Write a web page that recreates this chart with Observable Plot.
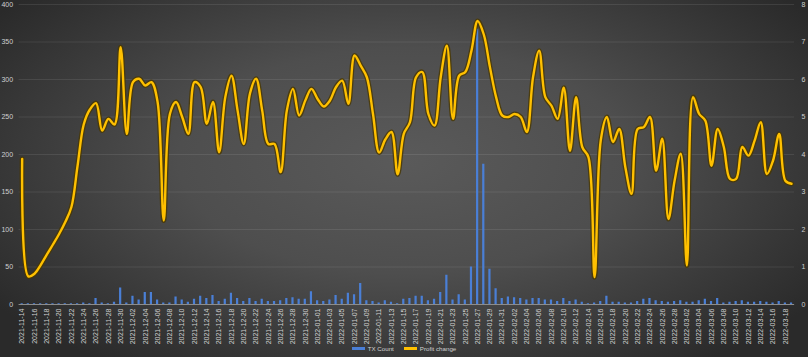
<!DOCTYPE html>
<html><head><meta charset="utf-8">
<script src="https://cdn.jsdelivr.net/npm/d3@7"></script>
<script src="https://cdn.jsdelivr.net/npm/@observablehq/plot@0.6"></script>
<style>
html,body{margin:0;padding:0;background:#2b2b2b;}
#wrap{position:relative;width:808px;height:357px;overflow:hidden;
  background: radial-gradient(ellipse 62% 70% at 50% 45%, #5a5a5a 0%, #4e4e4e 45%, #2a2a2a 100%);
  font-family:"Liberation Sans",Arial,sans-serif;}
#chart{position:absolute;left:0;top:0;}
#legend{position:absolute;left:0;top:340px;width:808px;height:17px;display:flex;justify-content:center;align-items:center;gap:10px;font-size:6.2px;color:#d0d0d0;}
.item{display:flex;align-items:center;}
.sw{display:inline-block;width:13px;height:2.5px;margin-right:3px;}
</style></head>
<body>
<div id="wrap"><div id="chart"></div>
<div id="legend">
  <span class="item"><span class="sw" style="background:#4a7fd6"></span>TX Count</span>
  <span class="item"><span class="sw" style="background:#FFC000"></span>Profit change</span>
</div></div>
<script>
const startDate = "2021-11-14";
const endDate = "2022-03-19";
const txCount = [1,1,1,1,1,1,1,1,1,1,2,1,8,2,1,3,22,2,11,6,16,16,6,2,2,10,6,3,7,11,8,12,4,7,15,8,4,8,4,7,4,4,5,8,9,7,7,17,5,4,6,12,7,15,13,28,5,4,2,5,3,1,7,8,11,11,5,7,16,39,6,13,6,50,367,187,47,21,8,10,9,8,6,8,8,6,6,4,8,4,6,3,1,2,4,11,3,3,2,2,4,7,8,5,4,3,4,5,3,3,5,7,4,8,2,3,4,5,3,3,4,3,2,4,2,2];
const profitChange = [3.88,0.75,0.82,1.05,1.33,1.6,1.88,2.2,2.6,3.7,4.8,5.2,5.37,4.64,4.95,4.8,6.86,4.55,5.93,6.02,5.84,5.93,5.4,2.24,5.08,5.4,5.0,4.55,5.93,5.8,4.82,5.4,4.06,5.53,6.1,5.17,4.28,5.62,6.02,5.17,4.28,4.28,3.53,5.17,5.75,5.04,5.44,5.75,5.48,5.28,5.44,5.8,5.97,5.35,6.64,6.37,6.06,5.08,4.05,4.4,4.6,3.47,4.55,4.86,6.06,6.2,5.08,4.77,6.06,6.9,4.95,6.1,6.2,6.77,7.56,7.2,6.33,5.53,5.04,5.0,5.08,5.0,4.6,6.06,6.77,5.53,5.3,4.95,5.78,4.1,5.53,4.2,3.93,0.73,4.37,5.0,4.33,4.68,3.66,2.95,4.68,4.73,5.0,3.57,4.42,2.28,3.3,4.02,1.04,5.53,5.08,4.9,3.7,4.68,4.2,3.35,3.35,4.2,3.97,4.37,4.86,3.48,3.84,4.55,3.3,3.22];
const leftTicks = [0,50,100,150,200,250,300,350,400];
const rightMax = 8;
const leftMax = 400;

const fmt = d3.utcFormat("%Y-%m-%d");
const dates = d3.utcDay.range(new Date(startDate + "T00:00Z"), d3.utcDay.offset(new Date(endDate + "T00:00Z"), 1)).map(fmt);
const data = dates.map((d, i) => ({date: d, tx: txCount[i], profit: profitChange[i]}));
const labelDates = dates.filter((d, i) => i % 2 === 0);
const ratio = leftMax / rightMax;

const chart = Plot.plot({
  width: 808, height: 340,
  marginTop: 4, marginBottom: 36, marginLeft: 18.6, marginRight: 13.9,
  style: {background: "transparent", color: "#d0d0d0", fontFamily: "'Liberation Sans', Arial, sans-serif", fontSize: "7px", overflow: "visible"},
  x: {type: "band", domain: dates, paddingInner: 0.64, paddingOuter: 0.32, round: false, label: null},
  y: {domain: [0, leftMax], label: null},
  marks: [
    Plot.gridY(leftTicks, {stroke: "#ffffff", strokeOpacity: 0.09}),
    Plot.barY(data, {x: "date", y: "tx", fill: "#4a7fd6"}),
    Plot.ruleY([0], {stroke: "#8c8c8c", strokeWidth: 1}),
    Plot.lineY(data, {x: "date", y: d => d.profit * ratio, stroke: "#4a3800", strokeWidth: 5, strokeOpacity: 0.8, curve: "catmull-rom"}),
    Plot.lineY(data, {x: "date", y: d => d.profit * ratio, stroke: "#FFC000", strokeWidth: 2.4, curve: "catmull-rom"}),
    Plot.axisY(leftTicks, {anchor: "left", tickSize: 0, tickPadding: 6, label: null, fill: "#d0d0d0"}),
    Plot.axisY(leftTicks, {anchor: "right", tickSize: 0, tickPadding: 7, label: null, tickFormat: d => d / ratio, fill: "#d0d0d0"}),
    Plot.axisX(labelDates, {tickSize: 0, tickPadding: 4, tickRotate: -90, label: null, fill: "#d0d0d0", fontSize: 7})
  ]
});
document.getElementById("chart").appendChild(chart);
</script>
</body></html>
